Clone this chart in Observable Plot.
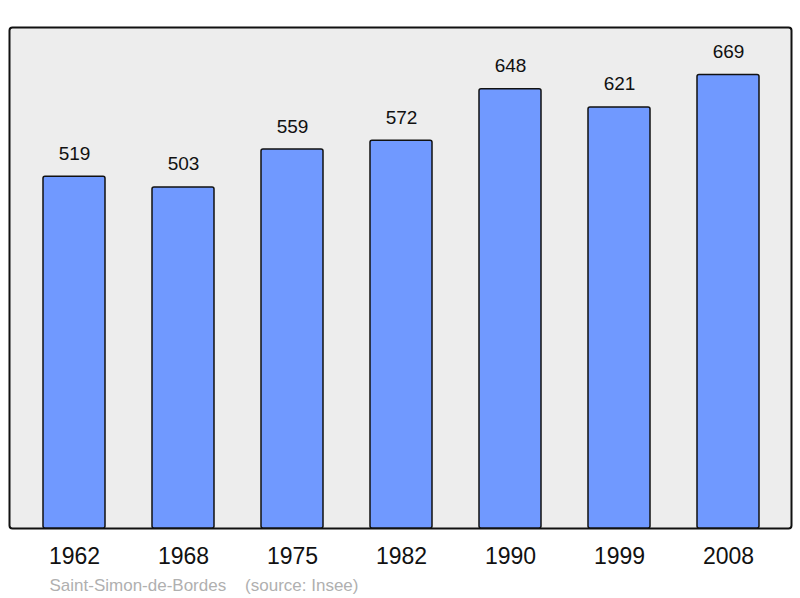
<!DOCTYPE html>
<html><head><meta charset="utf-8">
<script src="https://cdn.jsdelivr.net/npm/d3@7"></script>
<script src="https://cdn.jsdelivr.net/npm/@observablehq/plot@0.6"></script>
<style>body{margin:0;background:#fff}</style>
</head><body><div id="chart"></div>
<script>
const years = ["1962","1968","1975","1982","1990","1999","2008"];
const population = [519,503,559,572,648,621,669];
const captionText = ["Saint-Simon-de-Bordes\u00a0\u00a0\u00a0\u00a0(source: Insee)"];
const data = years.map((y,i)=>({year:y, pop:population[i]}));

const chart = Plot.plot({
  width: 800, height: 598,
  marginLeft: 9, marginRight: 9, marginTop: 27, marginBottom: 70,
  style: {fontFamily: "'Liberation Sans', Arial, sans-serif", background: "#fff"},
  x: {domain: years, paddingInner: 0.429, paddingOuter: 0.288, align: 0.52, label: null},
  y: {domain: [0, 739], axis: null},
  marks: [
    Plot.frame({fill: "#ededed", stroke: "#111", strokeWidth: 2, rx: 3}),
    Plot.barY(data, {x: "year", y: "pop", fill: "#7099ff", stroke: "#111", strokeWidth: 1.5, rx: 2}),
    Plot.text(data, {x: "year", y: "pop", text: d => String(d.pop), lineAnchor: "bottom", dy: -17, fontSize: 19, fill: "#111"}),
    Plot.axisX({tickSize: 0, tickPadding: 19, fontSize: 23, fill: "#111", label: null}),
    Plot.text(captionText, {frameAnchor: "bottom-left", text: d => d, textAnchor: "start", lineAnchor: "bottom", dx: 40, dy: 62, fontSize: 17, fill: "#b0b0b0"})
  ]
});
document.getElementById("chart").appendChild(chart);
</script></body></html>
